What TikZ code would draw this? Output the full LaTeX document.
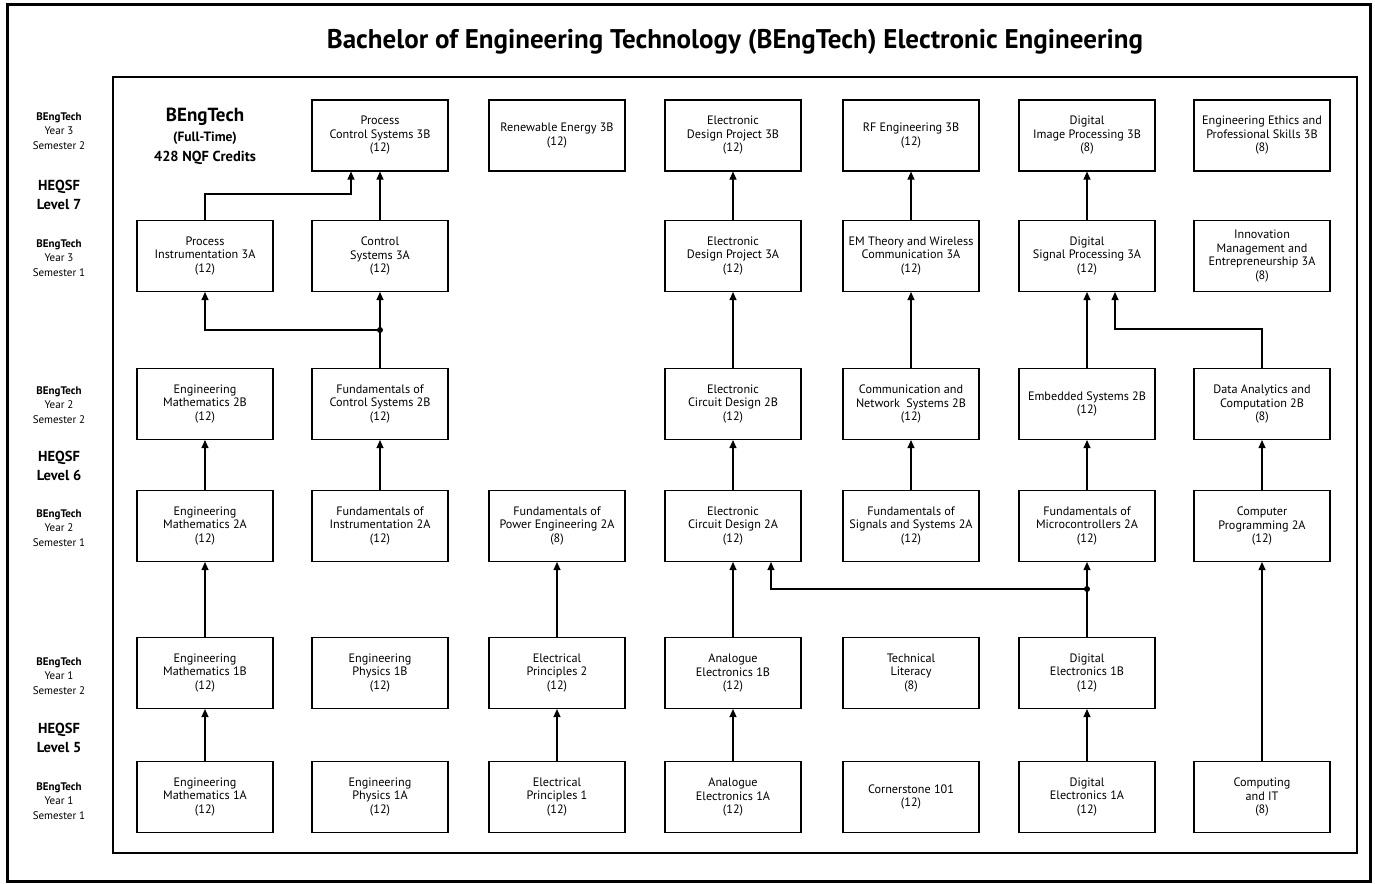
\documentclass[tikz,border=0pt]{standalone}
\usepackage{fontspec}
\setmainfont{PT Sans}
\usetikzlibrary{arrows.meta}

\begin{document}
\begin{tikzpicture}[x=1pt,y=-1pt,
    caixa/.style={draw,line width=1.1pt,minimum width=136pt,minimum height=71pt,
      align=center,inner sep=1pt,font=\fontsize{12.2}{13.5}\selectfont},
    seta/.style={line width=1.1pt,-{Triangle[length=8pt,width=7pt]}},
    linha/.style={line width=1.1pt},
    rotulo/.style={align=center,font=\fontsize{11}{14.5}\selectfont},
    nivel/.style={align=center,font=\fontsize{14.5}{19}\selectfont\bfseries}]
        \useasboundingbox (0,0) rectangle (1375,883);

        % Molduras
        \draw[line width=3pt] (7,5) rectangle (1370,881);
        \draw[linha] (113,77) rectangle (1357,853);

        % Titulo
        \node[font=\fontsize{27}{30}\selectfont\bfseries] (titulo) at (735,42)
          {Bachelor of Engineering Technology (BEngTech) Electronic Engineering};

        % Rotulos da esquerda
        \foreach \y/\ano/\sem in {131/3/2, 258/3/1, 405/2/2, 528/2/1, 676/1/2, 801/1/1}
          \node[rotulo] (ano\ano sem\sem) at (59,\y) {\textbf{BEngTech}\\Year \ano\\Semester \sem};
        \foreach \y/\n in {195/7, 466/6, 738/5}
          \node[nivel] (nivel\n) at (59,\y) {HEQSF\\Level \n};

        % Programa
        \node[align=center,font=\bfseries\fontsize{13.5}{20}\selectfont] (programa) at (205,136)
          {{\fontsize{19}{20}\selectfont BEngTech}\\(Full-Time)\\{\fontsize{14.5}{20}\selectfont 428 NQF Credits}};

        % Ano 3, semestre 2
        \node[caixa] (pcs3b) at (380,135.5) {Process\\Control Systems 3B\\(12)};
        \node[caixa] (re3b) at (557,135.5) {Renewable Energy 3B\\(12)};
        \node[caixa] (edp3b) at (733,135.5) {Electronic\\Design Project 3B\\(12)};
        \node[caixa] (rf3b) at (911,135.5) {RF Engineering 3B\\(12)};
        \node[caixa] (dip3b) at (1087,135.5) {Digital\\Image Processing 3B\\(8)};
        \node[caixa] (eeps3b) at (1262,135.5) {Engineering Ethics and\\Professional Skills 3B\\(8)};

        % Ano 3, semestre 1
        \node[caixa] (pi3a) at (205,256) {Process\\Instrumentation 3A\\(12)};
        \node[caixa] (cs3a) at (380,256) {Control\\Systems 3A\\(12)};
        \node[caixa] (edp3a) at (733,256) {Electronic\\Design Project 3A\\(12)};
        \node[caixa] (emt3a) at (911,256) {EM Theory and Wireless\\Communication 3A\\(12)};
        \node[caixa] (dsp3a) at (1087,256) {Digital\\Signal Processing 3A\\(12)};
        \node[caixa] (ime3a) at (1262,256) {Innovation\\Management and\\Entrepreneurship 3A\\(8)};

        % Ano 2, semestre 2
        \node[caixa] (em2b) at (205,404) {Engineering\\Mathematics 2B\\(12)};
        \node[caixa] (fcs2b) at (380,404) {Fundamentals of\\Control Systems 2B\\(12)};
        \node[caixa] (ecd2b) at (733,404) {Electronic\\Circuit Design 2B\\(12)};
        \node[caixa] (cns2b) at (911,404) {Communication and\\Network\ \ Systems 2B\\(12)};
        \node[caixa] (es2b) at (1087,404) {Embedded Systems 2B\\(12)};
        \node[caixa] (dac2b) at (1262,404) {Data Analytics and\\Computation 2B\\(8)};

        % Ano 2, semestre 1
        \node[caixa] (em2a) at (205,526) {Engineering\\Mathematics 2A\\(12)};
        \node[caixa] (fi2a) at (380,526) {Fundamentals of\\Instrumentation 2A\\(12)};
        \node[caixa] (fpe2a) at (557,526) {Fundamentals of\\Power Engineering 2A\\(8)};
        \node[caixa] (ecd2a) at (733,526) {Electronic\\Circuit Design 2A\\(12)};
        \node[caixa] (fss2a) at (911,526) {Fundamentals of\\Signals and Systems 2A\\(12)};
        \node[caixa] (fm2a) at (1087,526) {Fundamentals of\\Microcontrollers 2A\\(12)};
        \node[caixa] (cp2a) at (1262,526) {Computer\\Programming 2A\\(12)};

        % Ano 1, semestre 2
        \node[caixa] (em1b) at (205,673) {Engineering\\Mathematics 1B\\(12)};
        \node[caixa] (ep1b) at (380,673) {Engineering\\Physics 1B\\(12)};
        \node[caixa] (elp2) at (557,673) {Electrical\\Principles 2\\(12)};
        \node[caixa] (ae1b) at (733,673) {Analogue\\Electronics 1B\\(12)};
        \node[caixa] (tl) at (911,673) {Technical\\Literacy\\(8)};
        \node[caixa] (de1b) at (1087,673) {Digital\\Electronics 1B\\(12)};

        % Ano 1, semestre 1
        \node[caixa] (em1a) at (205,797) {Engineering\\Mathematics 1A\\(12)};
        \node[caixa] (ep1a) at (380,797) {Engineering\\Physics 1A\\(12)};
        \node[caixa] (elp1) at (557,797) {Electrical\\Principles 1\\(12)};
        \node[caixa] (ae1a) at (733,797) {Analogue\\Electronics 1A\\(12)};
        \node[caixa] (c101) at (911,797) {Cornerstone 101\\(12)};
        \node[caixa] (de1a) at (1087,797) {Digital\\Electronics 1A\\(12)};
        \node[caixa] (cit) at (1262,797) {Computing\\and IT\\(8)};

        % Pontos de juncao
        \coordinate (j1) at (380,330);
        \coordinate (j2) at (1087,589);

        % Setas verticais
        \draw[seta] (em1a) -- (em1b);
        \draw[seta] (em1b) -- (em2a);
        \draw[seta] (em2a) -- (em2b);
        \draw[seta] (fi2a) -- (fcs2b);
        \draw[seta] (cs3a) -- (pcs3b);
        \draw[seta] (elp1) -- (elp2);
        \draw[seta] (elp2) -- (fpe2a);
        \draw[seta] (ae1a) -- (ae1b);
        \draw[seta] (ae1b) -- (ecd2a);
        \draw[seta] (ecd2a) -- (ecd2b);
        \draw[seta] (ecd2b) -- (edp3a);
        \draw[seta] (edp3a) -- (edp3b);
        \draw[seta] (fss2a) -- (cns2b);
        \draw[seta] (cns2b) -- (emt3a);
        \draw[seta] (emt3a) -- (rf3b);
        \draw[seta] (de1a) -- (de1b);
        \draw[seta] (fm2a) -- (es2b);
        \draw[seta] (es2b) -- (dsp3a);
        \draw[seta] (dsp3a) -- (dip3b);
        \draw[seta] (cit) -- (cp2a);
        \draw[seta] (cp2a) -- (dac2b);

        % Setas com cotovelo
        \draw[seta] (pi3a.north) -- ++(0,-26) -| ([xshift=-29pt]pcs3b.south);
        \draw[linha] (fcs2b) -- (j1);
        \draw[seta] (j1) -- (cs3a);
        \draw[seta] (j1) -| (pi3a);
        \fill (j1) circle (3pt);
        \draw[linha] (de1b) -- (j2);
        \draw[seta] (j2) -- (fm2a);
        \draw[seta] (j2) -| ([xshift=38pt]ecd2a.south);
        \fill (j2) circle (3pt);
        \draw[seta] (dac2b.north) -- ++(0,-39) -| ([xshift=28pt]dsp3a.south);
    \end{tikzpicture}
\end{document}
